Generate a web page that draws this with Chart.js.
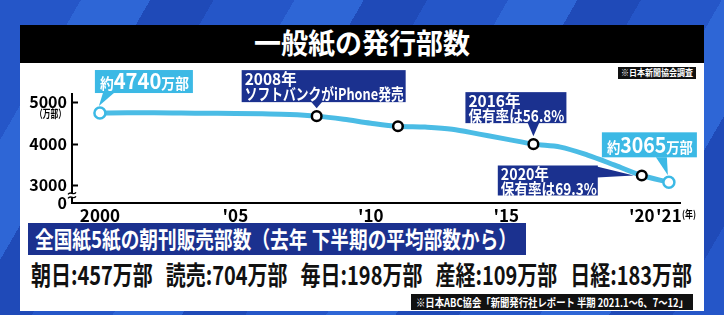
<!DOCTYPE html>
<html>
<head>
<meta charset="utf-8">
<script src="https://cdn.jsdelivr.net/npm/chart.js@4"></script>
<style>
html, body { margin: 0; padding: 0; }
body {
  width: 724px; height: 315px; overflow: hidden; position: relative;
  font-family: "Noto Sans CJK JP", sans-serif; font-weight: 700;
  background: repeating-linear-gradient(120deg, #2556c8 0 70px, #2e66d6 70px 130px, #1f4ab8 130px 185px);
}
#panel { position: absolute; left: 20px; top: 25px; width: 684px; height: 286px; background: #fff; }
#titlebar { position: absolute; left: 20px; top: 25px; width: 684px; height: 38px; background: #000; }
.box { position: absolute; }
.fit { position: absolute; white-space: nowrap; line-height: 1; transform-origin: 0 0; }
#chart { position: absolute; left: 0; top: 0; }
</style>
</head>
<body>
<div id="panel"></div>
<div id="titlebar"></div>
<span class="fit" data-w="216" style="left:254px; top:28px; font-size:28px; color:#fff;">一般紙の発行部数</span>

<div class="box" style="left:618px; top:67px; width:78px; height:12px; background:#111;"></div>
<span class="fit" data-w="72" style="left:621px; top:68px; font-size:9px; color:#fff;">※日本新聞協会調査</span>

<div class="box" style="left:28px; top:223px; width:498px; height:32px; background:#1b318f;"></div>
<span class="fit" data-w="482" style="left:35px; top:227px; font-size:23px; color:#fff;">全国紙5紙の朝刊販売部数（去年 下半期の平均部数から）</span>

<span class="fit" id="sales" data-w="661" style="left:31px; top:261px; font-size:26px; color:#111;"></span>

<div class="box" style="left:411px; top:294px; width:282px; height:16px; background:#111;"></div>
<span class="fit" data-w="272" style="left:416px; top:297px; font-size:11px; color:#fff;">※日本ABC協会「新聞発行社レポート 半期 2021.1～6、7～12」</span>

<canvas id="chart" width="724" height="315"></canvas>

<script>
// 一般紙の発行部数（万部）
const years = [2000, 2001, 2002, 2003, 2004, 2005, 2006, 2007, 2008, 2009, 2010,
               2011, 2012, 2013, 2014, 2015, 2016, 2017, 2018, 2019, 2020, 2021];
const circulation = [4740, 4745, 4745, 4740, 4735, 4730, 4720, 4705, 4665, 4590, 4495,
                     4420, 4400, 4350, 4230, 4110, 3988, 3916, 3723, 3480, 3230, 3065];
const endYears = [2000, 2021];
const eventYears = [2008, 2011, 2016, 2020];

const xTickYears = [2000, 2005, 2010, 2015, 2020, 2021];
const yTickValues = [3000, 4000, 5000];
const yBase = 2565; // broken axis, bottom is labelled 0

const calloutYears = [2000, 2008, 2016, 2020, 2021];
const calloutLines = [
  ['約', '4740', '万部'],
  ['2008年', 'ソフトバンクがiPhone発売'],
  ['2016年', '保有率は56.8%'],
  ['2020年', '保有率は69.3%'],
  ['約', '3065', '万部']
];

// 全国紙5紙の朝刊販売部数（万部）
const papers = ['朝日', '読売', '毎日', '産経', '日経'];
const morningSales = [457, 704, 198, 109, 183];

const FONT = '"Noto Sans CJK JP", sans-serif';
const CYAN = '#3cb9e5';
const NAVY = '#1b318f';

const salesEl = document.getElementById('sales');
papers.forEach((p, i) => {
  const s = document.createElement('span');
  s.textContent = p + ':' + morningSales[i] + '万部';
  if (i > 0) s.style.marginLeft = '17px';
  salesEl.appendChild(s);
});

function fitSpans() {
  document.querySelectorAll('.fit').forEach(el => {
    const w = el.getBoundingClientRect().width;
    el.style.transform = 'scaleX(' + (el.dataset.w / w) + ')';
  });
}

// text squeezed horizontally to a width, like the TV font
function fitText(ctx, text, x, y, size, maxW) {
  ctx.save();
  ctx.font = 'bold ' + size + 'px ' + FONT;
  const w = ctx.measureText(text).width;
  const s = Math.min(1, maxW / w);
  ctx.translate(x, y);
  ctx.scale(s, 1);
  ctx.textAlign = 'left';
  ctx.textBaseline = 'middle';
  ctx.fillText(text, 0, 0);
  ctx.restore();
}

function drawRuns(ctx, runs, x, baseline, maxW) {
  let total = 0;
  runs.forEach(r => { ctx.font = 'bold ' + r.size + 'px ' + FONT; total += ctx.measureText(r.t).width; });
  const s = Math.min(1, maxW / total);
  ctx.save();
  ctx.translate(x, baseline);
  ctx.scale(s, 1);
  ctx.textBaseline = 'alphabetic';
  ctx.textAlign = 'left';
  let cx = 0;
  runs.forEach(r => {
    ctx.font = 'bold ' + r.size + 'px ' + FONT;
    ctx.fillText(r.t, cx, 0);
    cx += ctx.measureText(r.t).width;
  });
  ctx.restore();
}

function box(ctx, color, b, tri) {
  ctx.fillStyle = color;
  ctx.fillRect(b.x, b.y, b.w, b.h);
  ctx.beginPath();
  ctx.moveTo(tri[0][0], tri[0][1]);
  ctx.lineTo(tri[1][0], tri[1][1]);
  ctx.lineTo(tri[2][0], tri[2][1]);
  ctx.closePath();
  ctx.fill();
}

const overlay = {
  id: 'overlay',
  afterDraw(chart) {
    const ctx = chart.ctx;
    const xs = chart.scales.x, ys = chart.scales.y;
    const axX = chart.chartArea.left;

    // inward ticks on y axis
    ctx.save();
    ctx.strokeStyle = '#000';
    ctx.lineWidth = 2;
    yTickValues.forEach(v => {
      const y = Math.round(ys.getPixelForValue(v)) + 0.5;
      ctx.beginPath(); ctx.moveTo(axX, y); ctx.lineTo(axX + 6, y); ctx.stroke();
    });
    // axis break mark (two little waves across the axis)
    const by = ys.getPixelForValue(2750);
    ctx.fillStyle = '#fff';
    ctx.fillRect(axX - 2, by - 1.5, 4, 3);
    ctx.lineWidth = 1.3;
    [-2, 2].forEach(d => {
      ctx.beginPath();
      ctx.moveTo(axX - 4, by + d + 1);
      ctx.bezierCurveTo(axX - 1, by + d - 3, axX + 1, by + d + 3, axX + 4, by + d - 1);
      ctx.stroke();
    });
    ctx.restore();

    ctx.fillStyle = '#000';
    fitText(ctx, '（万部）', 35, ys.getPixelForValue(4730), 11, 31);
    fitText(ctx, '(年)', 682, chart.chartArea.bottom + 11, 10, 14);

    const pt = yr => {
      const i = years.indexOf(yr);
      return { x: xs.getPixelForValue(yr), y: ys.getPixelForValue(circulation[i]) };
    };

    calloutYears.forEach((yr, k) => {
      const p = pt(yr);
      const L = calloutLines[k];
      let b;
      if (k === 0 || k === 4) {
        b = k === 0 ? { x: p.x - 5, y: p.y - 43, w: 98, h: 23 } : { x: p.x - 67, y: p.y - 50, w: 95, h: 25 };
        const bx = k === 0 ? p.x + 3 : p.x - 13;
        box(ctx, CYAN, b, [[bx, b.y + b.h], [bx + 11, b.y + b.h], [p.x - 1, p.y - 7]]);
        ctx.fillStyle = '#fff';
        drawRuns(ctx, [{ t: L[0], size: 15 }, { t: L[1], size: 22 }, { t: L[2], size: 15 }],
          b.x + 5, b.y + b.h - 4, b.w - 9);
      } else if (k === 3) {
        b = { x: p.x - 144, y: p.y - 10, w: 100, h: 30 };
        box(ctx, NAVY, b, [[b.x + b.w - 1, b.y + 1], [b.x + b.w - 1, b.y + 12], [p.x - 8, p.y]]);
        ctx.fillStyle = '#fff';
        fitText(ctx, L[0], b.x + 3, b.y + 8, 16, 48);
        fitText(ctx, L[1], b.x + 3, b.y + 23, 16, 96);
      } else {
        b = k === 1 ? { x: p.x - 75, y: p.y - 46, w: 164, h: 32 } : { x: p.x - 68, y: p.y - 52, w: 101, h: 31 };
        box(ctx, NAVY, b, [[p.x - 6, b.y + b.h - 1], [p.x + 6, b.y + b.h - 1], [p.x, p.y - 8]]);
        ctx.fillStyle = '#fff';
        fitText(ctx, L[0], b.x + 3, b.y + 9, 16, 52);
        fitText(ctx, L[1], b.x + 3, b.y + 24, 16, b.w - 5);
      }
    });
  }
};

const isEnd = c => endYears.includes(years[c.dataIndex]);
const isEvent = c => eventYears.includes(years[c.dataIndex]);

new Chart(document.getElementById('chart'), {
  type: 'line',
  data: {
    datasets: [{
      data: years.map((y, i) => ({ x: y, y: circulation[i] })),
      borderColor: '#4bbce5',
      borderWidth: 5,
      cubicInterpolationMode: 'monotone',
      pointRadius: c => isEnd(c) ? 5.5 : (isEvent(c) ? 4.8 : 0),
      pointBorderWidth: 2.5,
      pointBackgroundColor: '#fff',
      pointBorderColor: c => isEnd(c) ? CYAN : '#000'
    }]
  },
  options: {
    responsive: false,
    animation: false,
    devicePixelRatio: 1,
    layout: { padding: { left: 0, right: 44, top: 94, bottom: 86 } },
    plugins: { legend: { display: false }, tooltip: { enabled: false } },
    scales: {
      x: {
        type: 'linear', min: 1998.97, max: 2021.41,
        grid: { display: false, drawTicks: false },
        border: { display: true, color: '#000', width: 2 },
        afterBuildTicks: s => { s.ticks = xTickYears.map(v => ({ value: v })); },
        afterFit: s => { s.height = 26; },
        ticks: {
          autoSkip: false, maxRotation: 0, padding: 2, color: '#000',
          font: { family: FONT, size: 17, weight: 'bold' },
          callback: v => v === 2000 ? '2000' : "'" + String(v).slice(2)
        }
      },
      y: {
        min: yBase, max: 5200,
        grid: { display: false, drawTicks: false },
        border: { display: true, color: '#000', width: 2 },
        afterBuildTicks: s => { s.ticks = [yBase].concat(yTickValues).map(v => ({ value: v })); },
        afterFit: s => { s.width = 72; },
        ticks: {
          autoSkip: false, padding: 5, color: '#000',
          font: { family: FONT, size: 16, weight: 'bold' },
          callback: v => v === yBase ? '0' : String(v)
        }
      }
    }
  },
  plugins: [overlay]
});

fitSpans();
</script>
</body>
</html>
